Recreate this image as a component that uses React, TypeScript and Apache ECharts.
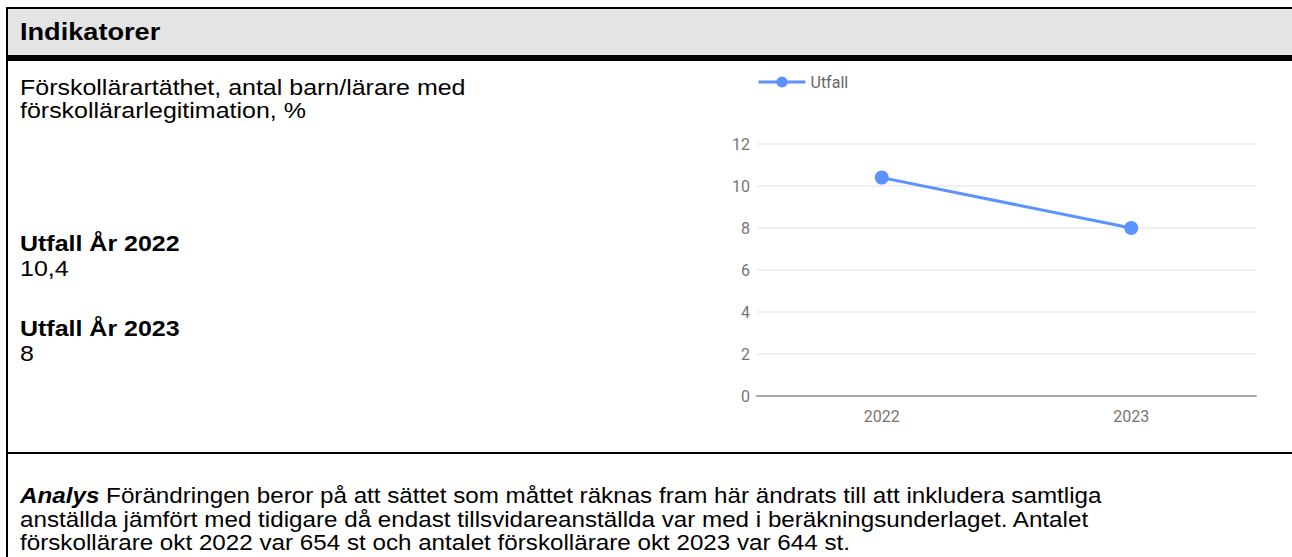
import React, { useEffect, useRef } from "react";
import * as echarts from "echarts";

const categories = ["2022", "2023"];
const utfall = [10.4, 8];
const yTicks = { min: 0, max: 12, interval: 2 };
const seriesName = "Utfall";

const headerTitle = "Indikatorer";
const indicatorLines = ["Förskollärartäthet, antal barn/lärare med", "förskollärarlegitimation, %"];
const resultBlocks = [
  { label: "Utfall År 2022", value: "10,4" },
  { label: "Utfall År 2023", value: "8" },
];
const analysisLines = [
  " Förändringen beror på att sättet som måttet räknas fram här ändrats till att inkludera samtliga",
  "anställda jämfört med tidigare då endast tillsvidareanställda var med i beräkningsunderlaget. Antalet",
  "förskollärare okt 2022 var 654 st och antalet förskollärare okt 2023 var 644 st.",
];

const FONT = "'Liberation Sans', Arial, sans-serif";
const BODY = 22;

function Chart() {
  const ref = useRef<HTMLDivElement>(null);
  useEffect(() => {
    if (!ref.current) return;
    const chart = echarts.init(ref.current, null, { renderer: "svg" });
    chart.setOption({
      animation: false,
      legend: {
        data: [seriesName],
        left: 57,
        top: 13,
        padding: 0,
        itemWidth: 47,
        itemHeight: 14,
        itemGap: 8,
        lineStyle: { width: 3 },
        textStyle: { fontFamily: "Roboto", fontSize: 16, color: "#666666" },
      },
      grid: { left: 57, right: 36, top: 83, bottom: 57, containLabel: false },
      xAxis: {
        type: "category",
        data: categories,
        boundaryGap: true,
        axisTick: { show: false },
        axisLine: { show: true, lineStyle: { color: "#a8a8a8", width: 2 } },
        axisLabel: { fontFamily: "Roboto", fontSize: 16, color: "#757575", margin: 12 },
      },
      yAxis: {
        type: "value",
        min: yTicks.min,
        max: yTicks.max,
        interval: yTicks.interval,
        axisLine: { show: false },
        axisTick: { show: false },
        axisLabel: { fontFamily: "Roboto", fontSize: 16, color: "#757575", margin: 7 },
        splitLine: { lineStyle: { color: "#e9ebee", width: 1.5 } },
      },
      series: [
        {
          name: seriesName,
          type: "line",
          data: utfall,
          symbol: "circle",
          symbolSize: 14,
          itemStyle: { color: "#5b92ff" },
          lineStyle: { color: "#5b92ff", width: 3 },
        },
      ],
    });
    return () => chart.dispose();
  }, []);
  return <div ref={ref} style={{ position: "absolute", left: 700, top: 61, width: 592, height: 392 }} />;
}

function Line({ k, children, bold }: { k: number; children: React.ReactNode; bold?: boolean }) {
  return (
    <div style={{ height: "100%" }}>
      <span
        style={{
          display: "inline-block",
          transform: `scaleX(${k})`,
          transformOrigin: "left center",
          fontWeight: bold ? "bold" : "normal",
          whiteSpace: "nowrap",
        }}
      >
        {children}
      </span>
    </div>
  );
}

export default function App() {
  const abs = (o: React.CSSProperties): React.CSSProperties => ({ position: "absolute", ...o });
  return (
    <div style={{ position: "fixed", left: 0, top: 0, width: 1292, height: 557, background: "#fff", overflow: "hidden", fontFamily: FONT, color: "#000" }}>
      <div style={abs({ left: 6, top: 7, width: 1300, height: 2, background: "#000" })} />
      <div style={abs({ left: 8, top: 9, width: 1300, height: 46, background: "#e4e4e4" })} />
      <div style={abs({ left: 6, top: 55, width: 1300, height: 6, background: "#000" })} />
      <div style={abs({ left: 6, top: 7, width: 2, height: 560, background: "#000" })} />
      <div style={abs({ left: 6, top: 452, width: 1300, height: 2, background: "#000" })} />

      <div style={abs({ left: 20, top: 18, lineHeight: "28px", fontSize: 23, whiteSpace: "nowrap" })}>
        <Line k={1.18} bold>{headerTitle}</Line>
      </div>

      <div style={abs({ left: 20, top: 76, lineHeight: "23px", fontSize: BODY })}>
        {indicatorLines.map((l, i) => (
          <Line key={i} k={1.135}>{l}</Line>
        ))}
      </div>

      {resultBlocks.map((b, i) => (
        <div key={i} style={abs({ left: 20, top: 231 + i * 85, lineHeight: "25px", fontSize: BODY })}>
          <Line k={1.135} bold>{b.label}</Line>
          <Line k={1.135}>{b.value}</Line>
        </div>
      ))}

      <div style={abs({ left: 20, top: 484, lineHeight: "23.5px", fontSize: BODY })}>
        {analysisLines.map((l, i) => (
          <Line key={i} k={1.1}>
            {i === 0 && <b><i>Analys</i></b>}
            {l}
          </Line>
        ))}
      </div>

      <Chart />
    </div>
  );
}
